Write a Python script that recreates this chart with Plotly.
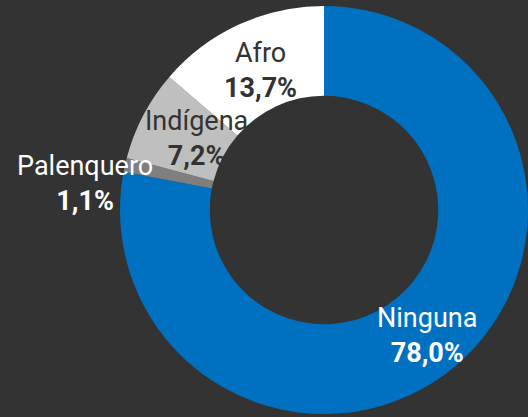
import plotly.graph_objects as go

labels = ["Ninguna", "Palenquero", "Indígena", "Afro"]
values = [78.0, 1.1, 7.2, 13.7]
colors = ["#0070C0", "#7F7F7F", "#BFBFBF", "#FFFFFF"]
text_colors = ["#FFFFFF", "#FFFFFF", "#333333", "#333333"]

# label centres in pixels (x, y from top) of the 528x417 canvas
label_pos = [(427, 335), (85, 184), (196, 139), (260, 70)]

W, H = 528, 417
BG = "#333333"

fig = go.Figure()

fig.add_trace(go.Pie(
    labels=labels,
    values=values,
    hole=0.56,
    sort=False,
    direction="clockwise",
    rotation=0,
    marker=dict(colors=colors, line=dict(width=0)),
    textinfo="none",
    hoverinfo="label+percent",
    showlegend=False,
    domain=dict(x=[(324 - 204) / W, (324 + 204) / W],
                y=[(207 - 204) / H, (207 + 204) / H]),
))

for lab, val, col, (px, py) in zip(labels, values, text_colors, label_pos):
    pct = f"{val:.1f}".replace(".", ",") + "%"
    fig.add_annotation(
        x=px / W, y=1 - py / H, xref="paper", yref="paper",
        text=f"{lab}<br><b>{pct}</b>",
        showarrow=False, xanchor="center", yanchor="middle",
        font=dict(family="Roboto", size=27, color=col),
    )

fig.update_layout(
    width=W, height=H,
    margin=dict(l=0, r=0, t=0, b=0),
    paper_bgcolor=BG,
    plot_bgcolor=BG,
)

fig.write_html("out.html",
               config={"displayModeBar": False},
               post_script="document.body.style.margin='0px';"
                           "document.body.style.background='#333333';")
